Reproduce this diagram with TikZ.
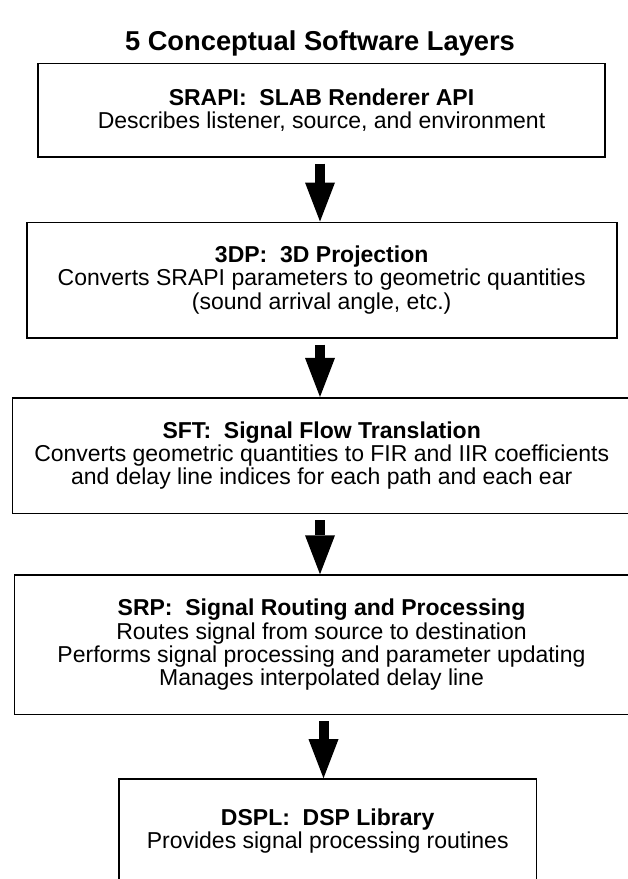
\documentclass[tikz,border=0pt]{standalone}
\usepackage{fontspec}
\setmainfont{Liberation Sans}
\usetikzlibrary{arrows.meta}
\begin{document}
\begin{tikzpicture}[x=1pt,y=-1pt,
  layer/.style={draw=black, line width=1.6pt, fill=white, inner sep=0pt, align=center,
    font=\fontsize{23}{23.3}\selectfont},
  bigarrow/.style={line width=10pt, -{Triangle[length=39pt,width=30pt,line width=0pt]}, shorten <=6pt}]
\useasboundingbox (0,0) rectangle (628,879);
\node[font=\bfseries\fontsize{27.3}{30}\selectfont, anchor=base] (title) at (320,50) {5 Conceptual Software Layers};
\node[layer, minimum width=567pt, minimum height=93.4pt] (b1) at (321.5,110)
  {\textbf{SRAPI:\ \ SLAB Renderer API}\\Describes listener, source, and environment};
\node[layer, minimum width=590pt, minimum height=115.4pt] (b2) at (321.7,280)
  {\textbf{3DP:\ \ 3D Projection}\\Converts SRAPI parameters to geometric quantities\\(sound arrival angle, etc.)};
\node[layer, minimum width=618.8pt, minimum height=115.6pt] (b3) at (321.7,455.5)
  {\textbf{SFT:\ \ Signal Flow Translation}\\Converts geometric quantities to FIR and IIR coefficients\\and delay line indices for each path and each ear};
\node[layer, minimum width=614.4pt, minimum height=139.3pt] (b4) at (321.5,644.7)
  {\textbf{SRP:\ \ Signal Routing and Processing}\\Routes signal from source to destination\\Performs signal processing and parameter updating\\Manages interpolated delay line};
\node[layer, minimum width=417.3pt, minimum height=104pt] (b5) at (327.7,831)
  {\textbf{DSPL:\ \ DSP Library}\\Provides signal processing routines};
\draw[bigarrow] ([xshift=-1.5pt]b1.south) -- ([xshift=-1.5pt]b1.south |- b2.north);
\draw[bigarrow] ([xshift=-1.7pt]b2.south) -- ([xshift=-1.7pt]b2.south |- b3.north);
\draw[bigarrow] ([xshift=-1.7pt]b3.south) -- ([xshift=-1.7pt]b3.south |- b4.north);
\draw[bigarrow] ([xshift=2pt]b4.south) -- ([xshift=2pt]b4.south |- b5.north);
\end{tikzpicture}
\end{document}
